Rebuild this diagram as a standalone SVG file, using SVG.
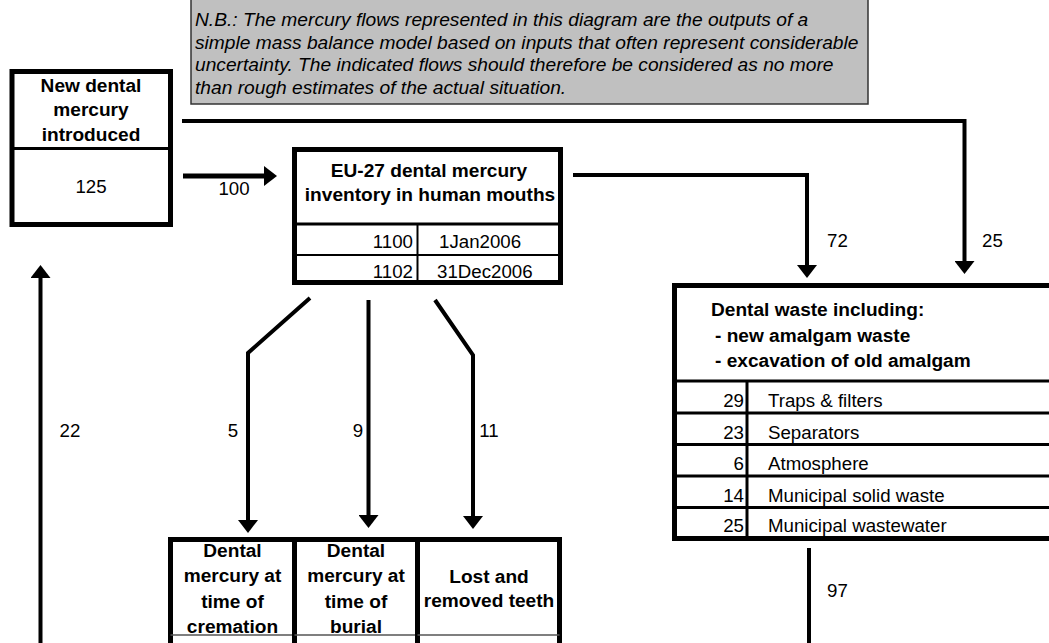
<svg xmlns="http://www.w3.org/2000/svg" width="1049" height="643" viewBox="0 0 1049 643">
<style>
text{font-family:"Liberation Sans",Arial,sans-serif;font-size:18.7px;fill:#000}
.b{font-weight:bold;font-size:19.1px}
.i{font-style:italic;font-size:19.2px}
.m{text-anchor:middle}
.e{text-anchor:end}
.box{fill:#fff;stroke:#000;stroke-width:5}
.div{stroke:#000;stroke-width:3;fill:none}
.thin{stroke:#000;stroke-width:2;fill:none}
.con{stroke:#000;fill:none;stroke-width:4}
</style>
<defs>
<marker id="ah" viewBox="0 0 13 20" refX="0" refY="10" markerWidth="13" markerHeight="20" markerUnits="userSpaceOnUse" orient="auto">
<path d="M0,0 L13,10 L0,20 Z" fill="#000"/>
</marker>
</defs>
<rect width="1049" height="643" fill="#fff"/>

<g id="note">
<rect x="191" y="-2" width="677" height="106" fill="#c0c0c0" stroke="#333" stroke-width="1.5"/>
<text class="i" x="195" y="26">N.B.: The mercury flows represented in this diagram are the outputs of a</text>
<text class="i" x="195" y="48.5">simple mass balance model based on inputs that often represent considerable</text>
<text class="i" x="195" y="71">uncertainty. The indicated flows should therefore be considered as no more</text>
<text class="i" x="195" y="93.5">than rough estimates of the actual situation.</text>
</g>

<g id="new-dental">
<rect class="box" x="12" y="71.5" width="158.5" height="153"/>
<line class="div" x1="12" y1="148.5" x2="170.5" y2="148.5"/>
<text class="b m" x="91" y="92">New dental</text>
<text class="b m" x="91" y="116">mercury</text>
<text class="b m" x="91" y="141">introduced</text>
<text class="m" x="91" y="193">125</text>
</g>

<g id="inventory">
<rect class="box" x="294.5" y="149.5" width="266" height="133"/>
<line class="div" x1="294.5" y1="224" x2="560.5" y2="224"/>
<line class="thin" x1="294.5" y1="255" x2="560.5" y2="255"/>
<line class="thin" x1="417.5" y1="224" x2="417.5" y2="282.5"/>
<text class="b m" x="429" y="177">EU-27 dental mercury</text>
<text class="b m" x="430" y="201">inventory in human mouths</text>
<text class="e" x="413" y="248">1100</text>
<text x="439" y="248">1Jan2006</text>
<text class="e" x="413" y="278">1102</text>
<text x="437" y="278">31Dec2006</text>
</g>

<g id="dental-waste">
<rect class="box" x="674.5" y="285.5" width="390" height="253"/>
<line class="div" x1="674.5" y1="381" x2="1060" y2="381"/>
<line class="div" x1="674.5" y1="413" x2="1060" y2="413"/>
<line class="div" x1="674.5" y1="444.5" x2="1060" y2="444.5"/>
<line class="div" x1="674.5" y1="476" x2="1060" y2="476"/>
<line class="div" x1="674.5" y1="507.5" x2="1060" y2="507.5"/>
<line class="div" x1="747" y1="381" x2="747" y2="538.5"/>
<text class="b" x="711" y="316">Dental waste including:</text>
<text class="b" x="715" y="342">- new amalgam waste</text>
<text class="b" x="715" y="367">- excavation of old amalgam</text>
<text class="e" x="744" y="407">29</text><text x="768" y="407">Traps &amp; filters</text>
<text class="e" x="744" y="438.5">23</text><text x="768" y="438.5">Separators</text>
<text class="e" x="744" y="470">6</text><text x="768" y="470">Atmosphere</text>
<text class="e" x="744" y="501.5">14</text><text x="768" y="501.5">Municipal solid waste</text>
<text class="e" x="744" y="532">25</text><text x="768" y="532">Municipal wastewater</text>
</g>

<g id="cremation">
<rect class="box" x="170.5" y="539.5" width="124" height="120"/>
<line x1="170.5" y1="635" x2="294.5" y2="635" stroke="#555" stroke-width="1.5"/>
<text class="b m" x="232.5" y="557">Dental</text>
<text class="b m" x="232.5" y="582">mercury at</text>
<text class="b m" x="232.5" y="607.5">time of</text>
<text class="b m" x="232.5" y="633">cremation</text>
</g>

<g id="burial">
<rect class="box" x="294.5" y="539.5" width="123" height="120"/>
<line x1="294.5" y1="635" x2="417.5" y2="635" stroke="#555" stroke-width="1.5"/>
<text class="b m" x="356" y="557">Dental</text>
<text class="b m" x="356" y="582">mercury at</text>
<text class="b m" x="356" y="607.5">time of</text>
<text class="b m" x="356" y="633">burial</text>
</g>

<g id="lost-teeth">
<rect class="box" x="417.5" y="539.5" width="142" height="120"/>
<line x1="417.5" y1="635" x2="559.5" y2="635" stroke="#555" stroke-width="1.5"/>
<text class="b m" x="489" y="583">Lost and</text>
<text class="b m" x="489" y="607">removed teeth</text>
</g>

<g id="connectors">
<path class="con" style="stroke-width:5" d="M183,176 H264" marker-end="url(#ah)"/>
<path class="con" d="M182,121 H964.5 V261" marker-end="url(#ah)"/>
<path class="con" d="M573,175 H807 V265" marker-end="url(#ah)"/>
<path class="con" d="M310,298 L248,353 V520" marker-end="url(#ah)"/>
<path class="con" d="M368.5,300 V515" marker-end="url(#ah)"/>
<path class="con" d="M435,300 L473,355 V516" marker-end="url(#ah)"/>
<path class="con" d="M40.5,643 V278" marker-end="url(#ah)"/>
<path class="con" d="M809,548 V643"/>
<text class="m" x="234" y="195">100</text>
<text x="827" y="247">72</text>
<text x="982" y="247">25</text>
<text class="m" x="233" y="437">5</text>
<text class="m" x="358" y="437">9</text>
<text class="m" x="489" y="437">11</text>
<text class="m" x="70" y="437">22</text>
<text x="827" y="597">97</text>
</g>
</svg>
